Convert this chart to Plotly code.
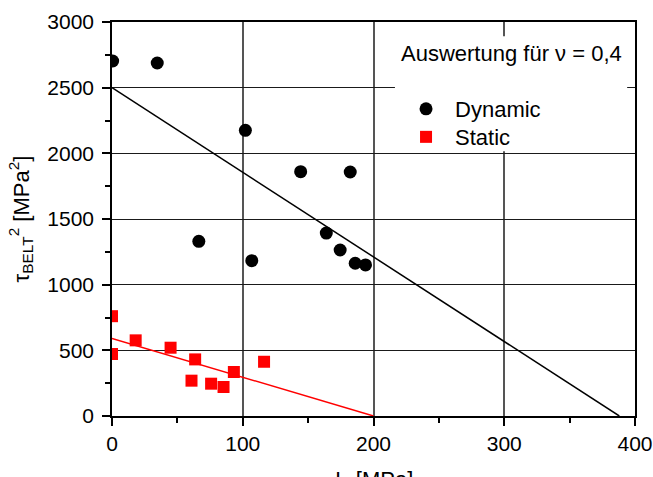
import plotly.graph_objects as go

# ---- data ----
dyn_x = [0.5, 34.6, 66.4, 102, 106.9, 144.3, 163.9, 174.5, 182.2, 186, 193.9]
dyn_y = [2703, 2688, 1330, 2175, 1183, 1860, 1393, 1264, 1858, 1163, 1150]
stat_x = [0, 0, 18.1, 44.8, 60.8, 63.6, 75.8, 85.3, 93.2, 116.3]
stat_y = [760, 472, 576, 520, 269, 431, 246, 221, 335, 413]
dyn_fit_x = [0, 388]
dyn_fit_y = [2500, 0]
stat_fit_x = [0, 200]
stat_fit_y = [590, 0]
x_ticks = [0, 100, 200, 300, 400]
y_ticks = [0, 500, 1000, 1500, 2000, 2500, 3000]
legend_title = "Auswertung für ν = 0,4"
x_title = "I<sub>1</sub> [MPa]"
y_title = "τ<sub>BELT</sub><sup>2</sup> [MPa<sup>2</sup>]"

FONT = "Arial, Liberation Sans, sans-serif"

fig = go.Figure()
fig.add_trace(go.Scatter(x=dyn_fit_x, y=dyn_fit_y, mode="lines",
                         line=dict(color="black", width=1.5), showlegend=False))
fig.add_trace(go.Scatter(x=stat_fit_x, y=stat_fit_y, mode="lines",
                         line=dict(color="#ff0000", width=1.5), showlegend=False))
fig.add_trace(go.Scatter(x=dyn_x, y=dyn_y, mode="markers", name="Dynamic",
                         legend="legend",
                         marker=dict(symbol="circle", size=13, color="black")))
fig.add_trace(go.Scatter(x=stat_x, y=stat_y, mode="markers", name="Static",
                         legend="legend2",
                         marker=dict(symbol="square", size=12, color="#ff0000")))

# white legend box
fig.add_shape(type="rect", xref="paper", yref="paper",
              x0=0.541, x1=0.985, y0=0.672, y1=0.964,
              fillcolor="white", line=dict(width=0), layer="above")
fig.add_annotation(text=legend_title, xref="paper", yref="paper",
                   x=0.763, y=0.921, xanchor="center", yanchor="middle",
                   showarrow=False, font=dict(family=FONT, size=22, color="black"))
# x-axis title (partly below the figure edge, as in the original)
fig.add_annotation(text=x_title, xref="paper", yref="paper",
                   x=0.5, y=-0.125, xanchor="center", yanchor="top",
                   showarrow=False, font=dict(family=FONT, size=22, color="black"))

leg_common = dict(xanchor="left", yanchor="middle", bgcolor="rgba(0,0,0,0)",
                  font=dict(family=FONT, size=22), itemwidth=48)

fig.update_layout(
    width=653, height=477,
    margin=dict(l=112, r=18, t=22, b=61),
    paper_bgcolor="white", plot_bgcolor="white",
    font=dict(family=FONT, size=20, color="black"),
    showlegend=True,
    legend=dict(x=0.545, y=0.779, **leg_common),
    legend2=dict(x=0.545, y=0.708, **leg_common),
)
fig.update_xaxes(
    range=[0, 400], tickvals=x_ticks, ticktext=[str(v) for v in x_ticks],
    automargin=False,
    showgrid=True, gridcolor="#555555", gridwidth=1.5,
    showline=True, linecolor="black", linewidth=1.5, mirror=True,
    ticks="outside", ticklen=8, tickwidth=1.5, tickcolor="black",
    minor=dict(dtick=50, ticks="outside", ticklen=5, tickwidth=1.5, tickcolor="black", showgrid=False),
    zeroline=False,
    tickfont=dict(family=FONT, size=21),
)
fig.update_yaxes(
    range=[0, 3000], tickvals=y_ticks, ticktext=[str(v) for v in y_ticks],
    automargin=False,
    showgrid=True, gridcolor="#1a1a1a", gridwidth=1,
    showline=True, linecolor="black", linewidth=1.5, mirror=True,
    ticks="outside", ticklen=8, tickwidth=1.5, tickcolor="black",
    minor=dict(dtick=250, ticks="outside", ticklen=5, tickwidth=1.5, tickcolor="black", showgrid=False),
    zeroline=False,
    ticklabelstandoff=4,
    tickfont=dict(family=FONT, size=21),
    title=dict(text=y_title, font=dict(family=FONT, size=22), standoff=12),
)

fig.write_html("out.html", config={"displayModeBar": False},
               post_script="document.body.style.margin='0';")
